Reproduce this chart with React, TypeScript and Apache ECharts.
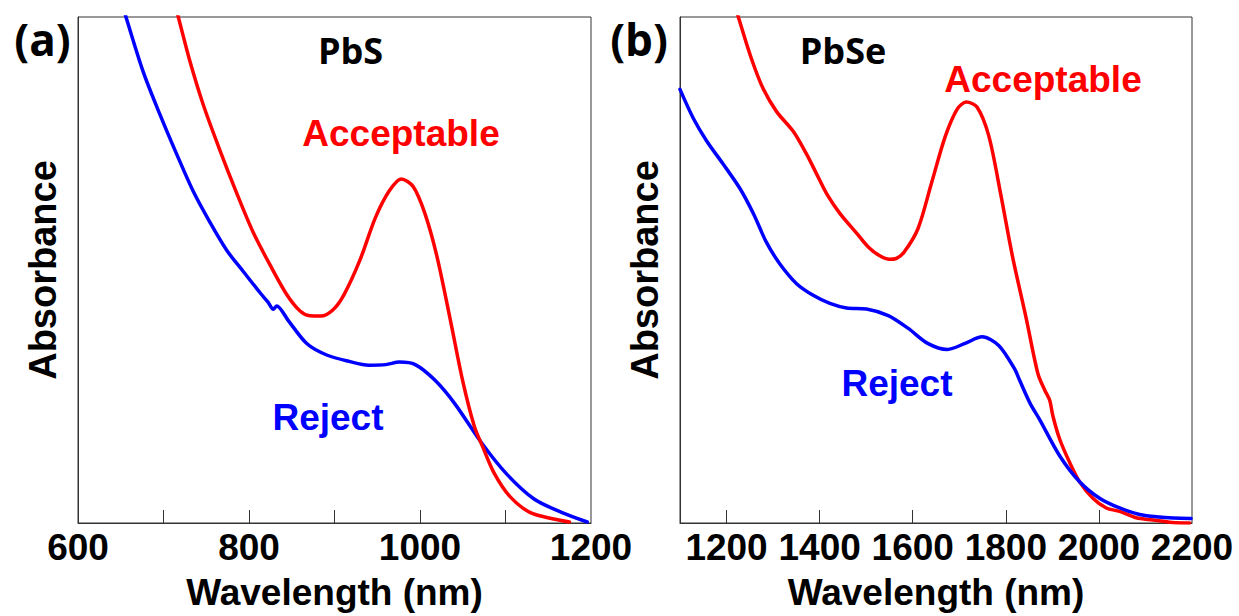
import React, { useEffect, useRef } from "react";
import * as echarts from "echarts";

// Panel (a) PbS
const wlA_acc = [712, 717.3, 731, 746.6, 766.1, 785.6, 805, 824.6, 844.1, 859.7, 871.3, 884, 898, 911, 929.6, 948, 964.3, 978.1, 992, 1005.9, 1019.8, 1036, 1049.8, 1063.7, 1073, 1086.9, 1105.3, 1128.5, 1156.3, 1174.8];
const absA_acc = [1.033, 1.0, 0.912, 0.826, 0.736, 0.652, 0.574, 0.51, 0.4516, 0.419, 0.4095, 0.409, 0.421, 0.451, 0.519, 0.604, 0.657, 0.68, 0.665, 0.611, 0.527, 0.397, 0.282, 0.19, 0.152, 0.098, 0.052, 0.021, 0.008, 0.002];
const wlA_rej = [648, 656.1, 676.4, 695.9, 715.4, 734.9, 754.4, 773.9, 793.3, 812.9, 822, 828.4, 832.4, 846, 867.5, 890.9, 918, 940, 960, 976, 994.4, 1017.6, 1040.6, 1073, 1100.7, 1133, 1165.5, 1195.6];
const absA_rej = [1.045, 1.0, 0.891, 0.807, 0.729, 0.655, 0.594, 0.539, 0.497, 0.455, 0.437, 0.4225, 0.429, 0.4, 0.3547, 0.332, 0.319, 0.312, 0.313, 0.318, 0.313, 0.282, 0.236, 0.156, 0.098, 0.048, 0.021, 0.002];

// Panel (b) PbSe
const wlB_acc = [1215, 1225.3, 1253.9, 1278.8, 1307.5, 1343.2, 1371.9, 1393.4, 1414.9, 1443.4, 1479.3, 1505, 1529.3, 1550, 1565, 1581.2, 1611, 1640.7, 1670.3, 1695.6, 1715.1, 1738.1, 1763.4, 1789, 1814.3, 1843.9, 1869, 1883.4, 1894.1, 1901.3, 1915.6, 1937, 1958.5, 1987.1, 2015.8, 2044.4, 2080.2, 2115.9, 2157.4, 2195];
const absB_acc = [1.03, 1.0, 0.9165, 0.858, 0.813, 0.774, 0.729, 0.69, 0.651, 0.612, 0.573, 0.545, 0.528, 0.521, 0.523, 0.535, 0.581, 0.673, 0.765, 0.818, 0.832, 0.822, 0.765, 0.65, 0.527, 0.404, 0.295, 0.263, 0.243, 0.211, 0.166, 0.12, 0.0816, 0.049, 0.0297, 0.023, 0.0103, 0.006, 0.001, 0.0];
const wlB_rej = [1100, 1128.5, 1157.3, 1193, 1228.8, 1257.3, 1286.1, 1314.6, 1350.5, 1386.1, 1422, 1457.8, 1500.7, 1547.5, 1589.8, 1632.1, 1674.6, 1712.6, 1749.1, 1784.7, 1818.6, 1829.7, 1852.5, 1872.7, 1915.6, 1958.5, 2001.4, 2044.4, 2087.3, 2130.2, 2160, 2198];
const absB_rej = [0.857, 0.8, 0.755, 0.709, 0.661, 0.612, 0.554, 0.512, 0.473, 0.45, 0.434, 0.425, 0.423, 0.41, 0.385, 0.355, 0.343, 0.355, 0.368, 0.351, 0.305, 0.282, 0.236, 0.2045, 0.133, 0.0816, 0.049, 0.0297, 0.0169, 0.0117, 0.01, 0.009];

const ticksA = [700, 800, 900, 1000, 1100];
const labelsA = [600, 800, 1000, 1200];
const ticksB = [1200, 1400, 1600, 1800, 2000];
const labelsB = [1200, 1400, 1600, 1800, 2000, 2200];

const RED = "#ff0000";
const BLUE = "#0000ff";
const AX = "#333333";
const ARIAL = "Liberation Sans, Arial, sans-serif";
const SEGOE = "Open Sans, Noto Sans, sans-serif";

const pairs = (xs: number[], ys: number[]) => xs.map((x, i) => [x, ys[i]]);

function xAxisFor(gi: number, min: number, max: number, ticks: number[], labels: number[]) {
  return {
    type: "value",
    gridIndex: gi,
    min,
    max,
    axisLine: { show: true, onZero: false, lineStyle: { color: AX, width: 1 } },
    axisTick: { show: true, inside: true, length: 13, customValues: ticks, lineStyle: { color: AX, width: 1 } },
    axisLabel: {
      customValues: labels,
      showMinLabel: true,
      showMaxLabel: true,
      formatter: (v: number) => String(v),
      fontSize: 37,
      fontWeight: "bold",
      fontFamily: ARIAL,
      color: "#000",
      margin: 6,
    },
    splitLine: { show: false },
    name: "Wavelength (nm)",
    nameLocation: "middle",
    nameGap: 51,
    nameTextStyle: { fontSize: 37, fontWeight: "bold", fontFamily: ARIAL, color: "#000" },
  };
}

function yAxisFor(gi: number) {
  return {
    type: "value",
    gridIndex: gi,
    min: 0,
    max: 1,
    axisLine: { show: true, lineStyle: { color: AX, width: 1 } },
    axisTick: { show: false },
    axisLabel: { show: false },
    splitLine: { show: false },
    name: "Absorbance",
    nameLocation: "middle",
    nameGap: 16,
    nameTextStyle: { fontSize: 38, fontWeight: "bold", fontFamily: ARIAL, color: "#000" },
  };
}

function lineSeries(xi: number, data: number[][], color: string) {
  return {
    type: "line",
    xAxisIndex: xi,
    yAxisIndex: xi,
    data,
    showSymbol: false,
    symbol: "none",
    smooth: 0.3,
    clip: true,
    lineStyle: { color, width: 3.5, cap: "round", join: "round" },
  };
}

function txt(text: string, x: number, y: number, fill: string, size: number, family: string) {
  return {
    type: "text",
    x,
    y,
    style: {
      text,
      fill,
      fontSize: size,
      fontWeight: "bold",
      fontFamily: family,
      align: "center",
      verticalAlign: "middle",
    },
  };
}

export default function App() {
  const ref = useRef<HTMLDivElement>(null);
  useEffect(() => {
    if (!ref.current) return;
    const chart = echarts.init(ref.current, null, { renderer: "svg" });
    chart.setOption({
      animation: false,
      backgroundColor: "#ffffff",
      grid: [
        { left: 78, top: 17, width: 513, height: 516, show: true, borderColor: AX, borderWidth: 1, backgroundColor: "transparent" },
        { left: 680, top: 17, width: 512, height: 515, show: true, borderColor: AX, borderWidth: 1, backgroundColor: "transparent" },
      ],
      xAxis: [xAxisFor(0, 600, 1200, ticksA, labelsA), xAxisFor(1, 1100, 2200, ticksB, labelsB)],
      yAxis: [yAxisFor(0), yAxisFor(1)],
      series: [
        lineSeries(0, pairs(wlA_rej, absA_rej), BLUE),
        lineSeries(0, pairs(wlA_acc, absA_acc), RED),
        lineSeries(1, pairs(wlB_acc, absB_acc), RED),
        lineSeries(1, pairs(wlB_rej, absB_rej), BLUE),
      ],
      graphic: [
        txt("(a)", 42.5, 38.5, "#000", 44, SEGOE),
        txt("(b)", 639, 38.5, "#000", 44, SEGOE),
        txt("PbS", 350.5, 50, "#000", 36, SEGOE),
        txt("PbSe", 843, 50, "#000", 36, SEGOE),
        txt("Acceptable", 401, 133, RED, 37, ARIAL),
        txt("Reject", 328, 417, BLUE, 37, ARIAL),
        txt("Acceptable", 1043, 79, RED, 37, ARIAL),
        txt("Reject", 897, 383, BLUE, 37, ARIAL),
      ],
    });
    return () => chart.dispose();
  }, []);
  return (
    <div
      ref={ref}
      style={{ position: "fixed", left: 0, top: 0, width: 1239, height: 616, background: "#fff" }}
    />
  );
}
